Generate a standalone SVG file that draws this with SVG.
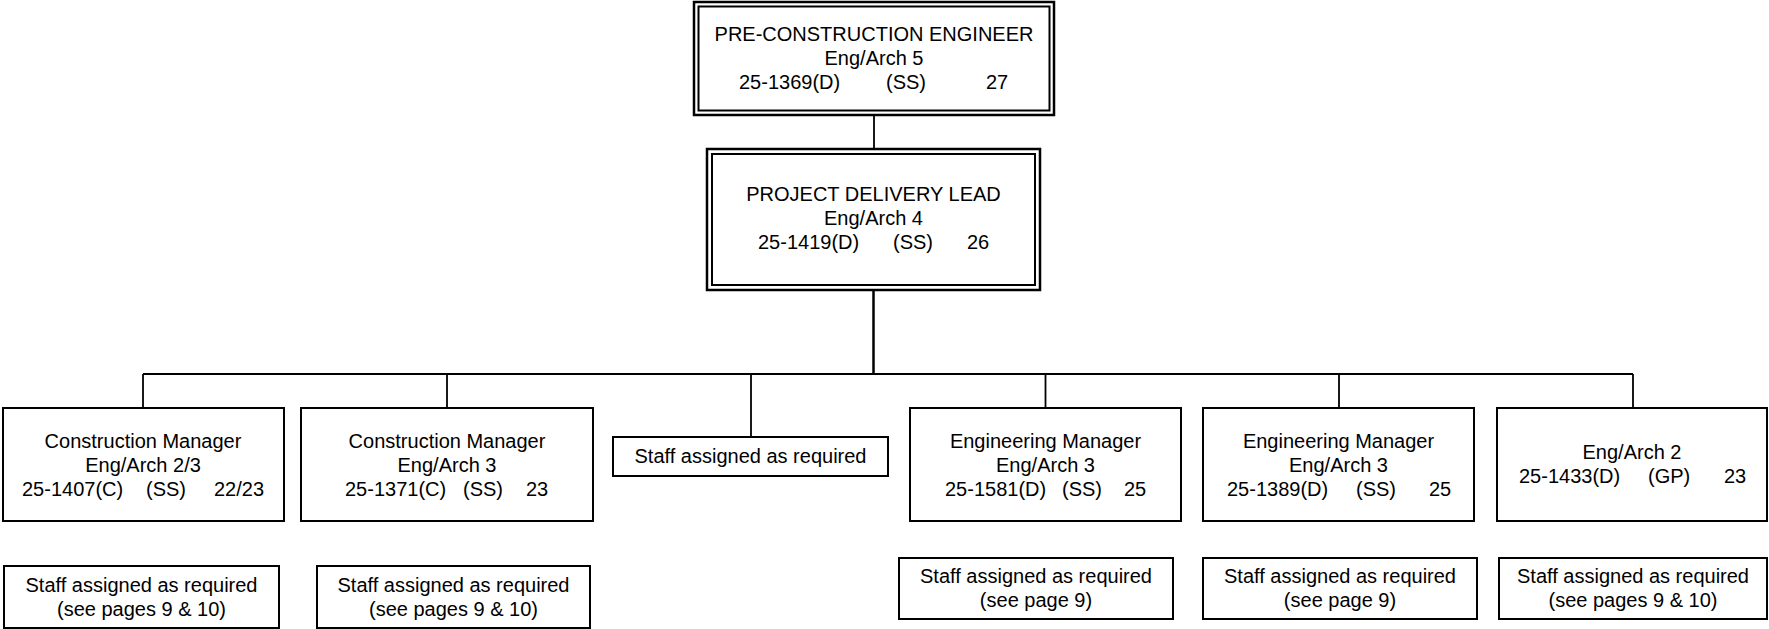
<svg xmlns="http://www.w3.org/2000/svg" width="1769" height="629" viewBox="0 0 1769 629">
<style>
text{font-family:"Liberation Sans",Arial,sans-serif;font-size:20px;fill:#000}
.c{text-anchor:middle}
.b{fill:#fff;stroke:#000;stroke-width:2}
.o{fill:#fff;stroke:#000;stroke-width:2.5}
.i{fill:none;stroke:#000;stroke-width:2}
.ln{stroke:#000;stroke-width:1.8;fill:none}
.tr{stroke:#000;stroke-width:2.5;fill:none}
</style>
<rect width="1769" height="629" fill="#fff"/>
<g id="connectors">
<line class="ln" x1="874" y1="115" x2="874" y2="149"/>
<line class="tr" x1="873.5" y1="290" x2="873.5" y2="374"/>
<line class="ln" x1="143" y1="374" x2="1633" y2="374"/>
<line class="ln" x1="143" y1="374" x2="143" y2="408"/>
<line class="ln" x1="447" y1="374" x2="447" y2="408"/>
<line class="ln" x1="751" y1="374" x2="751" y2="437"/>
<line class="ln" x1="1045.5" y1="374" x2="1045.5" y2="408"/>
<line class="ln" x1="1339" y1="374" x2="1339" y2="408"/>
<line class="ln" x1="1633" y1="374" x2="1633" y2="408"/>
</g>
<g id="pre-construction-engineer">
<rect class="o" x="694" y="2" width="360" height="113"/>
<rect class="i" x="698.5" y="6.5" width="351" height="104"/>
<text class="c" x="874" y="41">PRE-CONSTRUCTION ENGINEER</text>
<text class="c" x="874" y="65">Eng/Arch 5</text>
<text y="89"><tspan x="739">25-1369(D)</tspan><tspan x="886">(SS)</tspan><tspan x="986">27</tspan></text>
</g>
<g id="project-delivery-lead">
<rect class="o" x="707" y="149" width="333" height="141"/>
<rect class="i" x="712" y="154" width="323" height="131"/>
<text class="c" x="873.5" y="201">PROJECT DELIVERY LEAD</text>
<text class="c" x="873.5" y="225">Eng/Arch 4</text>
<text y="249"><tspan x="758">25-1419(D)</tspan><tspan x="893">(SS)</tspan><tspan x="967">26</tspan></text>
</g>
<g id="construction-manager-1">
<rect class="b" x="3" y="408" width="281" height="113"/>
<text class="c" x="143" y="448">Construction Manager</text>
<text class="c" x="143" y="472">Eng/Arch 2/3</text>
<text y="496"><tspan x="22">25-1407(C)</tspan><tspan x="146">(SS)</tspan><tspan x="214">22/23</tspan></text>
</g>
<g id="construction-manager-2">
<rect class="b" x="301" y="408" width="292" height="113"/>
<text class="c" x="447" y="448">Construction Manager</text>
<text class="c" x="447" y="472">Eng/Arch 3</text>
<text y="496"><tspan x="345">25-1371(C)</tspan><tspan x="463">(SS)</tspan><tspan x="526">23</tspan></text>
</g>
<g id="staff-assigned">
<rect class="b" x="613" y="437" width="275" height="39"/>
<text class="c" x="750.5" y="463">Staff assigned as required</text>
</g>
<g id="engineering-manager-1">
<rect class="b" x="910" y="408" width="271" height="113"/>
<text class="c" x="1045.5" y="448">Engineering Manager</text>
<text class="c" x="1045.5" y="472">Eng/Arch 3</text>
<text y="496"><tspan x="945">25-1581(D)</tspan><tspan x="1062">(SS)</tspan><tspan x="1124">25</tspan></text>
</g>
<g id="engineering-manager-2">
<rect class="b" x="1203" y="408" width="271" height="113"/>
<text class="c" x="1338.5" y="448">Engineering Manager</text>
<text class="c" x="1338.5" y="472">Eng/Arch 3</text>
<text y="496"><tspan x="1227">25-1389(D)</tspan><tspan x="1356">(SS)</tspan><tspan x="1429">25</tspan></text>
</g>
<g id="eng-arch-2">
<rect class="b" x="1497" y="408" width="270" height="113"/>
<text class="c" x="1632" y="459">Eng/Arch 2</text>
<text y="483"><tspan x="1519">25-1433(D)</tspan><tspan x="1648">(GP)</tspan><tspan x="1724">23</tspan></text>
</g>
<g id="staff-a">
<rect class="b" x="4" y="566" width="275" height="62"/>
<text class="c" x="141.5" y="592">Staff assigned as required</text>
<text class="c" x="141.5" y="616">(see pages 9 &amp; 10)</text>
</g>
<g id="staff-b">
<rect class="b" x="317" y="566" width="273" height="62"/>
<text class="c" x="453.5" y="592">Staff assigned as required</text>
<text class="c" x="453.5" y="616">(see pages 9 &amp; 10)</text>
</g>
<g id="staff-c">
<rect class="b" x="899" y="558" width="274" height="61"/>
<text class="c" x="1036" y="583">Staff assigned as required</text>
<text class="c" x="1036" y="607">(see page 9)</text>
</g>
<g id="staff-d">
<rect class="b" x="1203" y="558" width="274" height="61"/>
<text class="c" x="1340" y="583">Staff assigned as required</text>
<text class="c" x="1340" y="607">(see page 9)</text>
</g>
<g id="staff-e">
<rect class="b" x="1499" y="558" width="268" height="61"/>
<text class="c" x="1633" y="583">Staff assigned as required</text>
<text class="c" x="1633" y="607">(see pages 9 &amp; 10)</text>
</g>
</svg>
